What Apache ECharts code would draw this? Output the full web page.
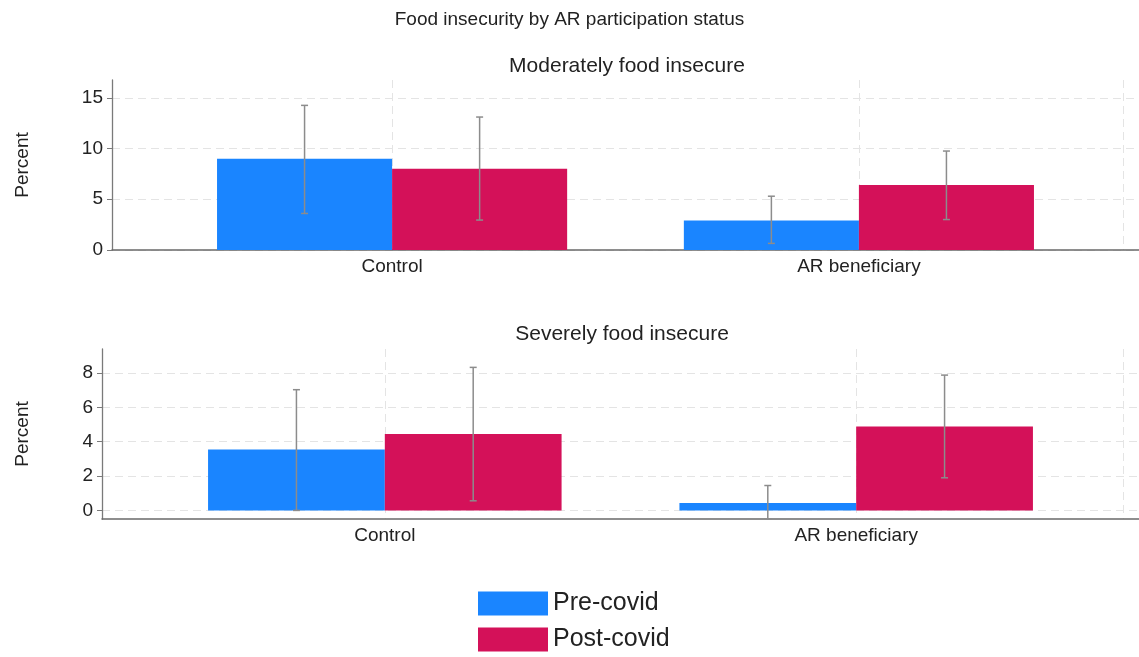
<!DOCTYPE html>
<html>
<head>
<meta charset="utf-8">
<script src="https://cdn.jsdelivr.net/npm/echarts@6/dist/echarts.min.js"></script>
<style>
  html, body { margin: 0; padding: 0; background: #fff; }
  #chart { width: 1139px; height: 657px; }
</style>
</head>
<body>
<div id="chart"></div>
<script>
// Groups on the horizontal axis (placed at x = 1, 2)
const categories = ['Control', 'AR beneficiary'];
const periods = ['Pre-covid', 'Post-covid'];

// Moderately food insecure (%), with 95% confidence bounds [low, high]
const moderatePre = [9.0, 2.9];
const moderatePost = [8.0, 6.4];
const moderatePreCI = [[3.6, 14.25], [0.65, 5.3]];
const moderatePostCI = [[2.95, 13.1], [3.0, 9.75]];

// Severely food insecure (%), with 95% confidence bounds [low, high]
const severePre = [3.55, 0.43];
const severePost = [4.45, 4.88];
const severePreCI = [[0.0, 7.03], [-0.5, 1.45]];
const severePostCI = [[0.56, 8.33], [1.9, 7.88]];

// Tick labels
const moderateTicks = [0, 5, 10, 15];
const severeTicks = [0, 2, 4, 6, 8];

const COLORS = ['#1a85ff', '#d41159'];
const BAR_FRACTION = 0.375;            // each bar's share of one category step
const FONT = 'Liberation Sans, Arial, sans-serif';
const GRID_DASH = { color: '#e4e4e4', width: 1, type: [8, 5] };

const toPoints = vals => vals.map((v, i) => [i + 1, v]);
const toCI = (ci, side) => ci.map((b, i) => [i + 1, b[0], b[1], side]);

function xAxisFor(gridIndex) {
  return {
    type: 'value', gridIndex, min: 0.4, max: 2.6,
    axisLine: { show: true, onZero: false, lineStyle: { color: '#6a6a6a', width: 1.5 } },
    axisTick: { show: false, customValues: [1, 2, 2.566] },
    splitLine: { show: true, lineStyle: GRID_DASH },
    axisLabel: {
      customValues: [1, 2], margin: 7, color: '#222', fontSize: 19, fontFamily: FONT,
      formatter: v => categories[Math.round(v) - 1]
    }
  };
}

function yAxisFor(gridIndex, min, max, ticks, nameGap) {
  return {
    type: 'value', gridIndex, min, max,
    name: 'Percent', nameLocation: 'middle', nameGap,
    nameTextStyle: { color: '#222', fontSize: 19, fontFamily: FONT },
    axisLine: { show: true, lineStyle: { color: '#7a7a7a', width: 1.3 } },
    axisTick: { show: true, length: 5, customValues: ticks, lineStyle: { color: '#7a7a7a' } },
    splitLine: { show: true, lineStyle: GRID_DASH },
    axisLabel: { customValues: ticks, margin: 9, color: '#222', fontSize: 19, fontFamily: FONT }
  };
}

function barSeries(name, data, axisIndex, colorIdx) {
  return {
    type: 'bar', name, data: toPoints(data),
    xAxisIndex: axisIndex, yAxisIndex: axisIndex,
    barWidth: (BAR_FRACTION * 100) + '%', barGap: '0%',
    itemStyle: { color: COLORS[colorIdx] },
    z: 2
  };
}

function errorSeries(name, ci, axisIndex, side) {
  return {
    type: 'custom', name, data: toCI(ci, side),
    xAxisIndex: axisIndex, yAxisIndex: axisIndex, z: 5,
    renderItem: (params, api) => {
      const x = api.value(0), lo = api.value(1), hi = api.value(2), s = api.value(3);
      const bw = api.size([1, 0])[0] * BAR_FRACTION;
      const top = api.coord([x, hi]);
      const bot = api.coord([x, lo]);
      const cx = top[0] + s * bw / 2;
      const cap = 3.5;
      const style = { stroke: '#8c8c8c', lineWidth: 1.5 };
      return {
        type: 'group',
        children: [
          { type: 'line', shape: { x1: cx, y1: top[1], x2: cx, y2: bot[1] }, style },
          { type: 'line', shape: { x1: cx - cap, y1: top[1], x2: cx + cap, y2: top[1] }, style },
          { type: 'line', shape: { x1: cx - cap, y1: bot[1], x2: cx + cap, y2: bot[1] }, style }
        ]
      };
    }
  };
}

const chart = echarts.init(document.getElementById('chart'), null, { renderer: 'canvas' });

chart.setOption({
  backgroundColor: '#fff',
  animation: false,
  textStyle: { fontFamily: FONT },
  title: {
    text: 'Food insecurity by AR participation status',
    left: 'center', top: 5,
    textStyle: { fontSize: 19, fontWeight: 'normal', color: '#222', fontFamily: FONT }
  },
  graphic: [
    { type: 'text', x: 627, y: 66,
      style: { text: 'Moderately food insecure', textAlign: 'center', textVerticalAlign: 'middle',
               fontSize: 21, fontFamily: FONT, fill: '#222' } },
    { type: 'text', x: 622, y: 334,
      style: { text: 'Severely food insecure', textAlign: 'center', textVerticalAlign: 'middle',
               fontSize: 21, fontFamily: FONT, fill: '#222' } }
  ],
  legend: {
    data: periods, orient: 'vertical', left: 473, top: 586,
    itemWidth: 70, itemHeight: 24, itemGap: 11, icon: 'rect',
    textStyle: { fontSize: 25, color: '#222', fontFamily: FONT }
  },
  grid: [
    { left: 112, right: 0, top: 80, height: 170 },
    { left: 102, right: 0, top: 349, height: 170 }
  ],
  xAxis: [xAxisFor(0), xAxisFor(1)],
  yAxis: [
    yAxisFor(0, 0, 16.75, moderateTicks, 80),
    yAxisFor(1, -0.5, 9.4, severeTicks, 70)
  ],
  series: [
    barSeries(periods[0], moderatePre, 0, 0),
    barSeries(periods[1], moderatePost, 0, 1),
    errorSeries('moderate-pre-ci', moderatePreCI, 0, -1),
    errorSeries('moderate-post-ci', moderatePostCI, 0, 1),
    barSeries(periods[0], severePre, 1, 0),
    barSeries(periods[1], severePost, 1, 1),
    errorSeries('severe-pre-ci', severePreCI, 1, -1),
    errorSeries('severe-post-ci', severePostCI, 1, 1)
  ]
});
</script>
</body>
</html>
